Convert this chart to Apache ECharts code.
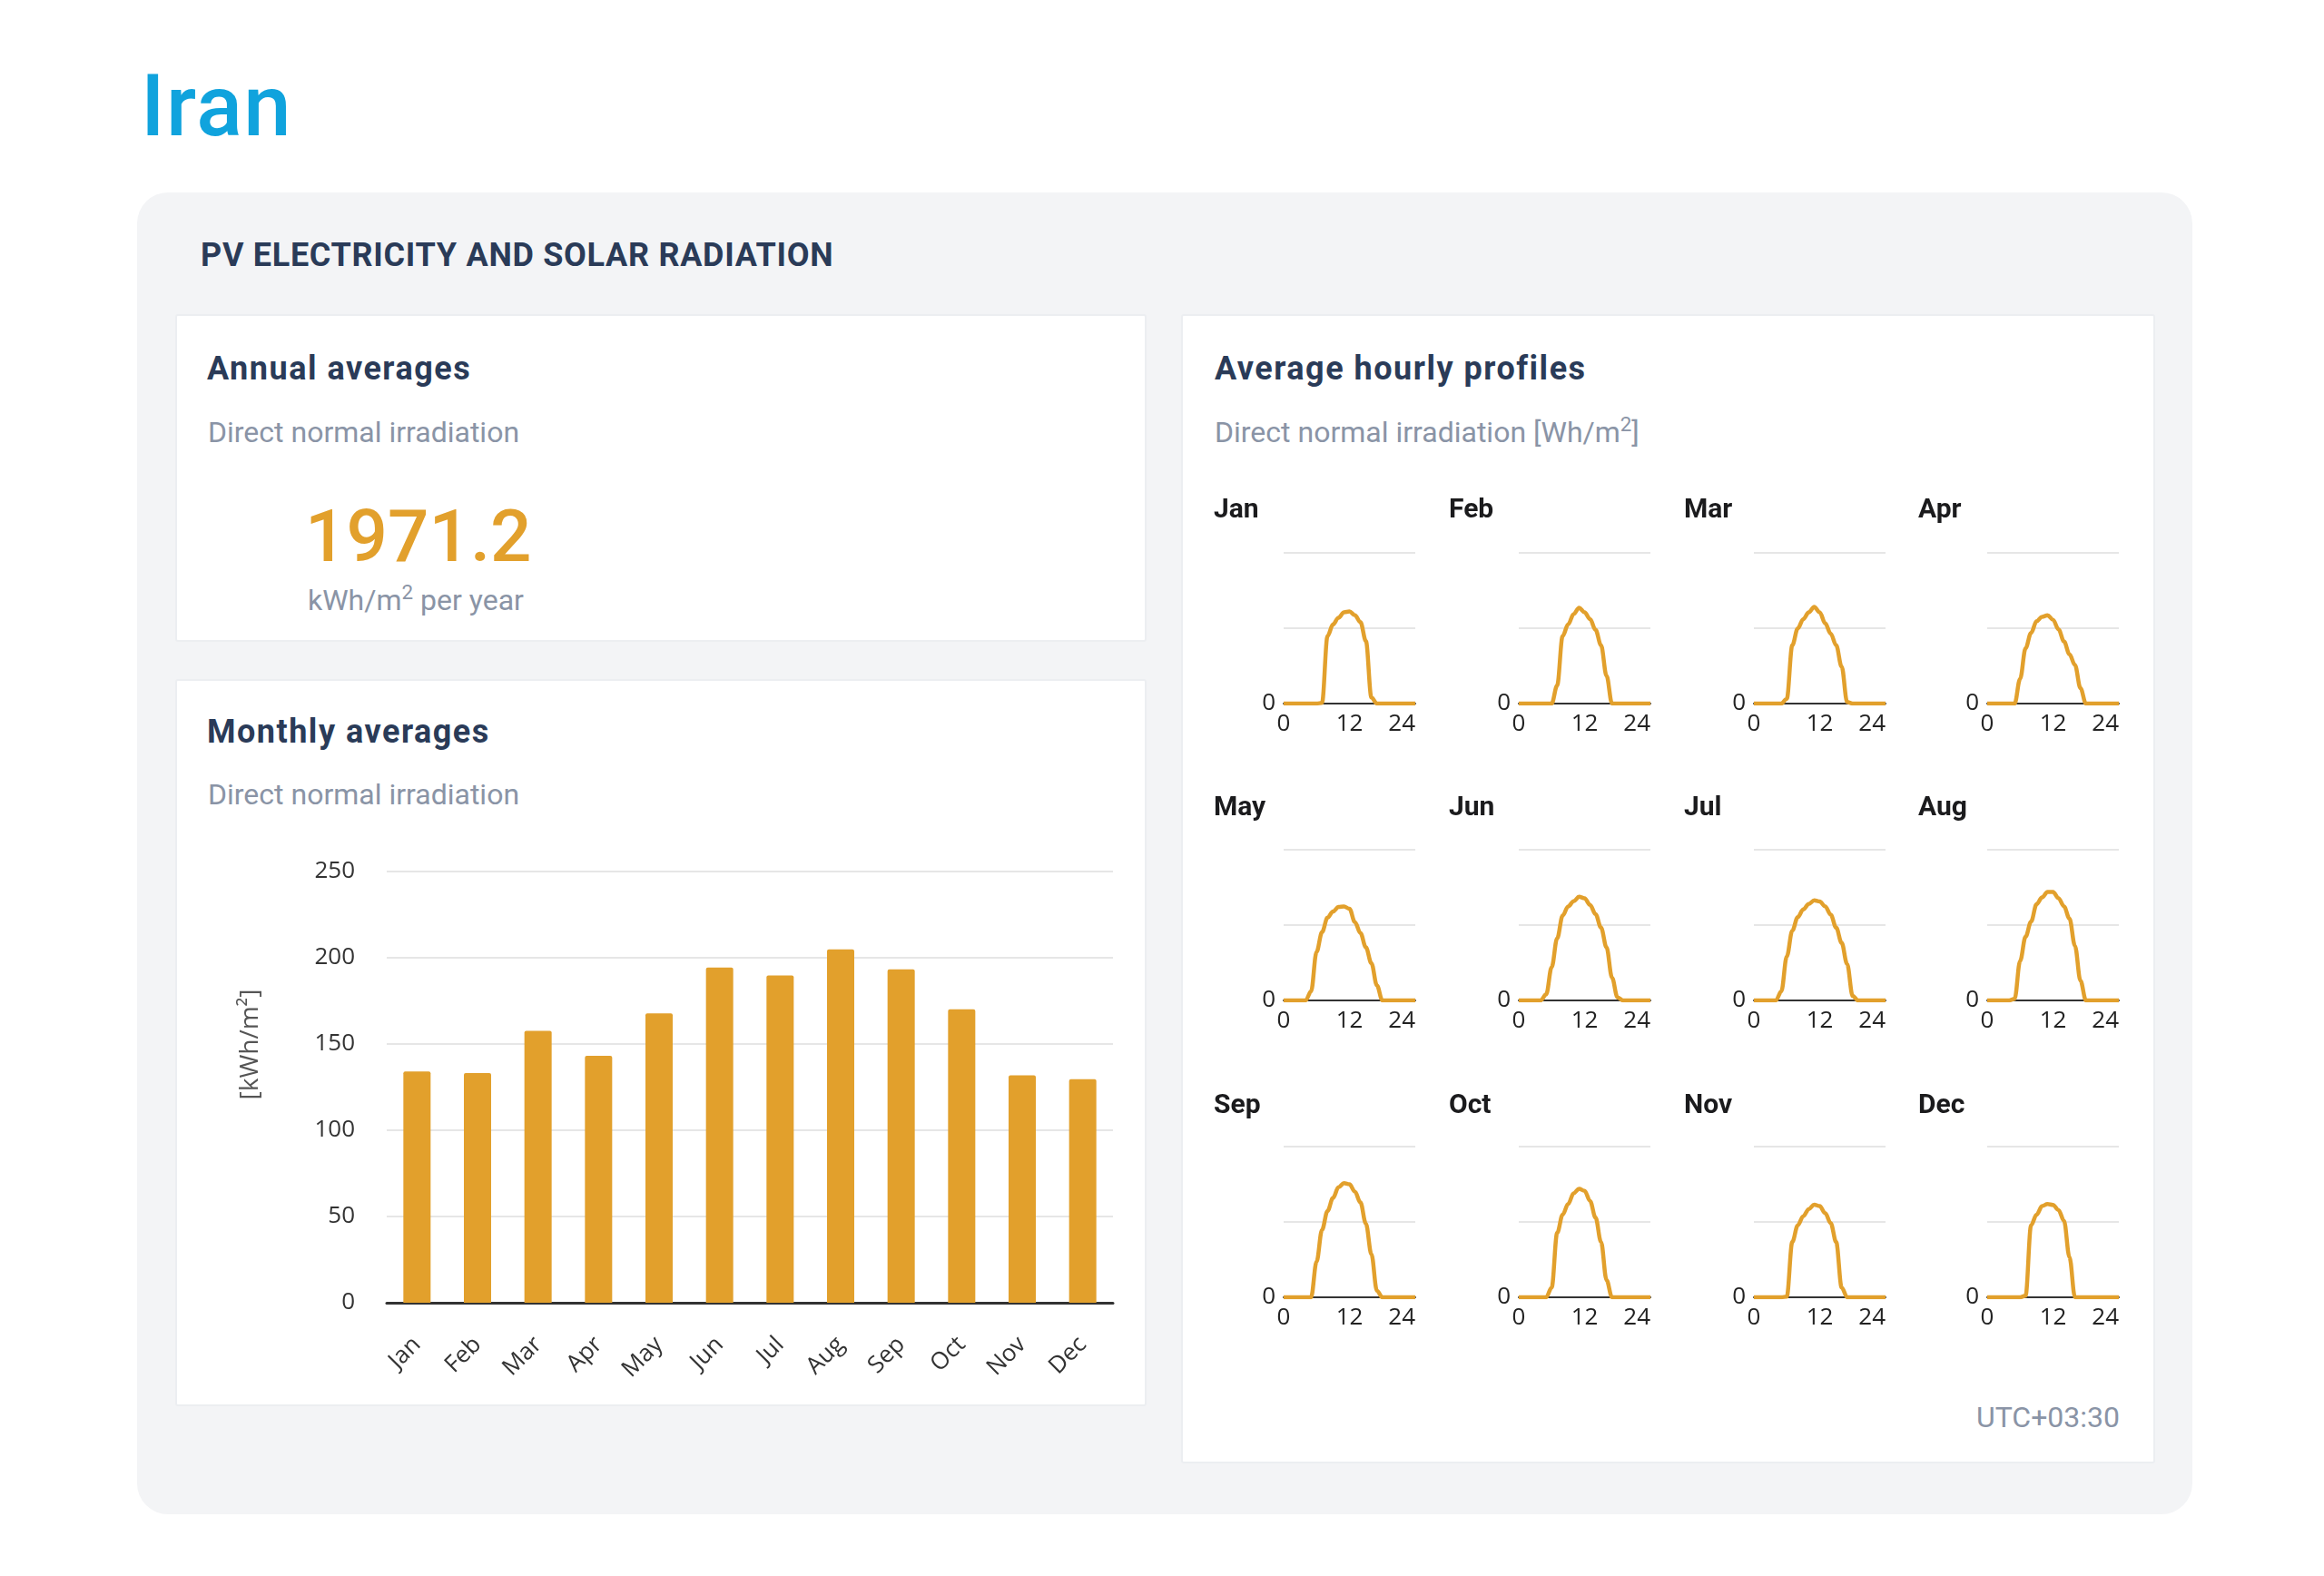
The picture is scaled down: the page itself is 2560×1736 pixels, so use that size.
<!DOCTYPE html>
<html><head><meta charset="utf-8">
<script src="https://cdn.jsdelivr.net/npm/echarts@6/dist/echarts.min.js"></script>
<style>
html,body{margin:0;padding:0;background:#fff;width:2560px;height:1736px;overflow:hidden;font-family:Roboto,sans-serif;}
.abs{position:absolute;white-space:nowrap;line-height:1;}
#panel{position:absolute;left:151px;top:212px;width:2264px;height:1456px;background:#f3f4f6;border-radius:34px;}
.card{position:absolute;background:#fff;border:2px solid #eceef1;box-sizing:border-box;border-radius:3px;}
.h2{font-size:36px;font-weight:700;color:#2a3b58;letter-spacing:1.5px;}
.sub{font-size:32px;color:#8a94a6;}
sup{font-size:0.7em;vertical-align:0.55em;line-height:0;}
#chart{position:absolute;left:0;top:0;width:2560px;height:1736px;}
</style></head>
<body>
<div class="abs" style="left:155px;top:70px;font-size:94px;font-weight:500;color:#10a3dd;letter-spacing:1.5px;">Iran</div>
<div id="panel"></div>
<div class="abs" style="left:221px;top:263px;font-size:36px;font-weight:700;color:#2a3b58;letter-spacing:0.7px;">PV ELECTRICITY AND SOLAR RADIATION</div>
<div class="card" style="left:193px;top:346px;width:1070px;height:361px;"></div>
<div class="card" style="left:193px;top:748px;width:1070px;height:801px;"></div>
<div class="card" style="left:1301px;top:346px;width:1073px;height:1266px;"></div>
<div class="abs h2" style="left:228px;top:388px;">Annual averages</div>
<div class="abs sub" style="left:229px;top:460px;">Direct normal irradiation</div>
<div class="abs" id="annual" style="left:336px;top:551px;font-size:80px;font-weight:500;color:#e2a02c;"></div>
<div class="abs sub" style="left:339px;top:645px;">kWh/m<sup>2</sup> per year</div>
<div class="abs h2" style="left:228px;top:788px;">Monthly averages</div>
<div class="abs sub" style="left:229px;top:859px;">Direct normal irradiation</div>
<div class="abs h2" style="left:1338px;top:388px;">Average hourly profiles</div>
<div class="abs sub" style="left:1338px;top:460px;">Direct normal irradiation [Wh/m<sup>2</sup>]</div>
<div class="abs sub" style="right:225px;top:1545px;">UTC+03:30</div>
<div id="chart"></div>
<script>
const annualDNI = 1971.2;
const months = ['Jan','Feb','Mar','Apr','May','Jun','Jul','Aug','Sep','Oct','Nov','Dec'];
const monthlyDNI = [134.1,133.1,157.6,143.2,167.7,194.3,189.8,204.9,193.3,170.1,131.9,129.6];
const barTicks = [0,50,100,150,200,250];
const hourTicks = [0,12,24];
const hours = [0,1,2,3,4,5,6,7,8,9,10,11,12,13,14,15,16,17,18,19,20,21,22,23,24];
//                 0 1 2 3 4  5   6   7   8   9   10  11  12  13  14  15  16  17  18  19 20 21 22 23 24
const hourlyJan = [0,0,0,0,0, 0,  0,  5,448,525,570,606,611,586,540,415, 40,  0,  0,  0,0,0,0,0,0];
const hourlyFeb = [0,0,0,0,0, 0,  0,120,448,525,594,635,606,560,489,387,185,  0,  0,  0,0,0,0,0,0];
const hourlyMar = [0,0,0,0,0, 0, 32,387,499,560,606,641,606,533,464,387,245, 10,  0,  0,0,0,0,0,0];
const hourlyApr = [0,0,0,0,0, 0,164,367,469,546,576,586,556,493,412,327,256,103,  0,  0,0,0,0,0,0];
const hourlyMay = [0,0,0,0,0, 60,322,453,549,590,620,624,608,519,447,352,247,100, 0,  0,0,0,0,0,0];
const hourlyJun = [0,0,0,0,0, 40,221,412,563,624,658,688,678,634,573,483,352,151, 20, 0,0,0,0,0,0];
const hourlyJul = [0,0,0,0,0, 60,292,463,553,604,640,664,656,624,569,483,382,241, 30, 0,0,0,0,0,0];
const hourlyAug = [0,0,0,0,0, 10,262,423,523,638,684,720,720,678,624,543,362,131, 0,  0,0,0,0,0,0];
const hourlySep = [0,0,0,0,0, 0,236,448,573,659,730,758,750,700,629,488,286, 44,  0,  0,0,0,0,0,0];
const hourlyOct = [0,0,0,0,0, 0, 65,427,548,619,690,720,706,639,528,367,115,  0,  0,  0,0,0,0,0,0];
const hourlyNov = [0,0,0,0,0, 0,  5,367,478,538,585,615,605,558,492,367, 65,  0,  0,  0,0,0,0,0,0];
const hourlyDec = [0,0,0,0,0, 0,  0, 10,478,548,605,619,613,579,508,266,  0,  0,  0,  0,0,0,0,0,0];
const hourlyProfiles = [hourlyJan,hourlyFeb,hourlyMar,hourlyApr,hourlyMay,hourlyJun,hourlyJul,hourlyAug,hourlySep,hourlyOct,hourlyNov,hourlyDec];

document.getElementById('annual').textContent = annualDNI.toFixed(1);

const ORANGE = '#e2a02c';
const colLeft = [1414, 1673, 1932, 2189];
const titleLeft = [1337, 1596, 1855, 2113];
const grids = [{left:426, top:960, width:800, height:475}];
const xAxes = [{
  type:'category', gridIndex:0, data:months,
  axisTick:{show:false},
  axisLine:{lineStyle:{color:'#333', width:3}},
  axisLabel:{rotate:45, margin:42, fontSize:26, fontFamily:'Open Sans', color:'#333'}
}];
const yAxes = [{
  type:'value', gridIndex:0, min:barTicks[0], max:barTicks[barTicks.length-1], interval:barTicks[1]-barTicks[0],
  axisLine:{show:false}, axisTick:{show:false},
  axisLabel:{margin:35, fontSize:26, fontFamily:'Open Sans', color:'#333'},
  splitLine:{lineStyle:{color:'#e6e6e6', width:2}},
  name:'[kWh/m²]', nameLocation:'middle', nameGap:136,
  nameTextStyle:{fontSize:28, fontFamily:'Open Sans', color:'#555', padding:[0,0,0,94]}
}];
const series = [{
  type:'bar', xAxisIndex:0, yAxisIndex:0, data:monthlyDNI, barWidth:'45%',
  itemStyle:{color:ORANGE, borderRadius:[2,2,0,0]}, silent:true
}];
const titles = [];
months.forEach((m,i)=>{
  const col = i%4, row = Math.floor(i/4);
  const gi = i+1;
  grids.push({left:colLeft[col], top:609 + row*327, width:145, height:166});
  titles.push({text:m, left:titleLeft[col], top:547 + row*328, padding:0,
    textStyle:{fontSize:30, fontWeight:'bold', fontFamily:'Roboto', color:'#1b1b1d'}});
  xAxes.push({
    type:'value', gridIndex:gi, min:hourTicks[0], max:hourTicks[2], interval:hourTicks[1]-hourTicks[0],
    offset:2,
    axisLine:{lineStyle:{color:'#333', width:2}}, axisTick:{show:false},
    splitLine:{show:false},
    axisLabel:{margin:8, fontSize:26, fontFamily:'Open Sans', color:'#222', alignMaxLabel:'right'}
  });
  yAxes.push({
    type:'value', gridIndex:gi, min:0, max:1000, interval:500,
    axisLine:{show:false}, axisTick:{show:false},
    axisLabel:{margin:9, fontSize:26, fontFamily:'Open Sans', color:'#222', formatter:v=> v===0 ? '0' : ''},
    splitLine:{lineStyle:{color:'#e6e6e6', width:2}}
  });
  series.push({
    type:'line', xAxisIndex:gi, yAxisIndex:gi, showSymbol:false, symbol:'none',
    smooth:0.35, smoothMonotone:'x', silent:true,
    lineStyle:{color:ORANGE, width:4.5},
    data:hours.map((h,j)=>[h, hourlyProfiles[i][j]])
  });
});

const chart = echarts.init(document.getElementById('chart'), null, {renderer:'canvas'});
chart.setOption({
  animation:false,
  backgroundColor:'transparent',
  title:titles,
  grid:grids,
  xAxis:xAxes,
  yAxis:yAxes,
  series:series
});
</script>
</body></html>
